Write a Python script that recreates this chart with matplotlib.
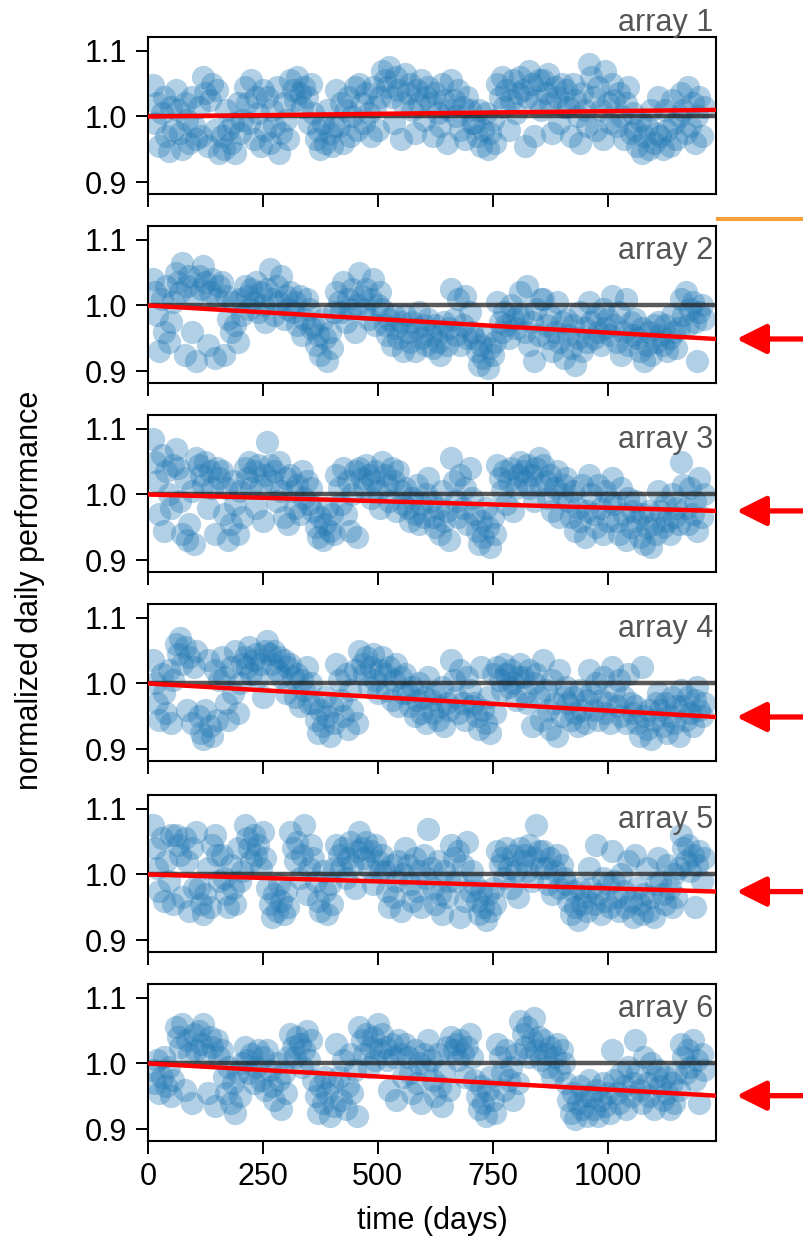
import matplotlib.pyplot as plt
from matplotlib.lines import Line2D
import numpy as np

# sampling days (every 5 days) and per-array daily performance,
# stored as deviation from 1.0 in per mille
days = np.arange(10, 1211, 5)

array1 = [
    48, -10, 20, -45, 5, 30, -30, -52, 15, -20,
    40, 10, -25, -50, 20, -5, -40, 30, -15, -35,
    15, -30, 60, 35, -45, 25, 50, -20, 40, -55,
    -30, -50, 10, -20, -40, -10, -55, 20, -25, -5,
    45, 20, -10, 55, -35, 30, 5, -45, 40, -20,
    30, -40, 10, -15, 45, -55, -25, 20, -5, -35,
    55, 40, 25, 60, 35, 15, 45, 30, -10, 50,
    5, -35, -20, -50, -10, -40, 10, -25, -45, -15,
    40, -15, 20, -40, 10, 30, -30, 0, 45, -20,
    50, 20, -10, 35, 5, -30, 45, 15, -20, 30,
    70, 55, 45, 75, 30, -10, 60, 40, -35, 20,
    65, 35, 50, 10, -25, 40, 20, 55, -5, 30,
    45, 20, -30, 35, 5, -15, 50, 25, -40, 10,
    55, 25, 0, 40, -20, 15, -35, 30, 10, -10,
    -10, -30, 10, -45, -20, 5, -50, -25, -5, -40,
    50, 30, 60, 15, 40, -20, 25, 55, 5, 35,
    60, 40, -45, 30, 70, 50, -30, 25, 55, 10,
    55, 35, 65, 20, -25, 45, 30, -10, 50, 15,
    40, 15, -30, 50, 25, 0, -40, 35, 10, -15,
    80, 60, 30, -20, 45, 10, -35, 70, 20, -10,
    50, 25, -15, 35, 0, -35, 20, 45, -25, 5,
    -20, -45, -5, -55, -30, -15, -50, 10, -40, -25,
    30, -30, -50, 10, -20, -45, 25, -10, -35, 0,
    35, 10, -25, 45, -15, 20, -40, 0, 30, -30, 15,
]

array2 = [
    40, 20, -15, -70, 10, -40, 30, -55, -25, 5,
    50, 35, 20, 65, -75, 30, 45, -40, 15, -85,
    45, 25, 60, 35, -60, 20, 40, -80, 10, 30,
    35, -75, 15, -20, -40, 5, -30, -55, 10, -15,
    30, 15, -5, 25, 5, 35, -10, 20, 0, -25,
    25, 55, 10, -15, 30, 5, 45, -20, 15, -5,
    20, -10, 5, -30, 15, -45, -20, 10, -5, -35,
    -30, -60, -45, -75, -20, -50, -85, -40, -65, -10,
    20, 5, -10, 35, -25, 10, -5, 25, -40, 0,
    50, 15, -5, 25, -20, 10, 40, -30, 0, 20,
    -5, -30, -45, -20, -60, -15, -35, -50, -25, -70,
    -15, -40, -55, -25, -70, -35, -10, -50, -30, -60,
    -20, -45, -65, -30, -55, -75, -40, -25, -60, -35,
    25, -20, -45, 10, -60, -30, 15, -50, -10, -40,
    -50, -70, -90, -60, -80, -45, -95, -65, -75, -55,
    5, -25, -40, -10, -30, -50, 0, -20, -35, -15,
    20, -15, -40, 30, -60, -25, -85, -5, -45, 10,
    10, -30, -50, -15, -70, -40, 5, -55, -25, -80,
    -20, -45, -65, -30, -90, -50, -10, -70, -35, -55,
    5, -25, -50, -15, -40, -60, -5, -35, -20, -45,
    15, -30, -55, -10, -75, -40, 10, -60, -25, -45,
    -20, -50, -70, -35, -85, -60, -40, -75, -30, -55,
    -25, -45, -60, -30, -70, -50, -15, -40, -65, -35,
    10, -15, 20, -30, -5, 5, -25, -85, -10, 0, -20,
]

array3 = [
    85, 50, 20, -30, 60, -55, 35, 0, -20, 45,
    70, 40, -10, -60, 25, -70, -45, 5, -75, 55,
    45, 30, 15, 50, -20, 35, 10, -60, 40, 25,
    35, -30, 10, -70, -45, 20, -15, -60, 5, -35,
    40, 25, 50, 10, 35, -20, 45, 15, -40, 30,
    80, 45, 20, 35, -10, 50, 5, -35, 25, -45,
    30, 5, -20, 15, -30, 35, -5, 20, -15, 10,
    -25, -50, -65, -35, -70, -45, -20, -55, -30, -60,
    30, 10, -15, 40, -30, 20, -55, 0, 35, -65,
    40, 25, 10, 45, 30, -5, 20, 35, 5, -20,
    50, 30, 15, -10, 40, 20, -25, 35, 5, -15,
    10, -20, -40, -5, -30, 15, -45, -15, -35, 0,
    25, -10, -35, -50, -20, -60, 5, -40, -25, -70,
    55, 20, -10, -35, 30, -20, 10, -45, 40, -5,
    -30, -55, -75, -40, -65, -20, -50, -80, -35, -60,
    45, 25, 5, 35, -15, 20, 40, -25, 10, 30,
    50, 35, 20, 45, 10, 30, -10, 40, 55, 15,
    45, 20, -5, 30, -25, 10, 35, -35, 0, 15,
    25, -10, -35, 5, -55, -20, -40, 15, -65, -25,
    30, 0, -30, -50, 15, -20, -60, 5, -40, -10,
    25, -15, -40, -60, 10, -30, -70, -5, -50, -25,
    -10, -40, -65, -30, -75, -50, -25, -80, -45, -60,
    5, -25, -50, -15, -40, -60, 0, -35, -20, -45,
    50, 15, -20, -45, 10, -30, -10, -55, 25, -35, 0,
]

array4 = [
    35, 0, -30, -55, 15, -15, -45, 20, -60, 5,
    60, 45, 70, 30, 55, -40, 40, -60, 25, 50,
    -50, -75, -85, -40, 35, -65, -80, 20, -55, 5,
    40, 10, -30, -55, 25, -15, 50, -45, 0, 30,
    40, 25, 55, 15, 35, 45, 10, 30, -20, 50,
    65, 45, 30, 50, 20, 40, 10, 35, -15, 25,
    30, 10, -20, 15, -35, 5, -10, 25, -30, 0,
    -30, -55, -75, -40, -65, -20, -50, -80, -35, -60,
    30, 5, -25, -50, 15, -70, -10, -40, 20, -60,
    50, 30, 15, 40, -5, 25, 45, 5, -15, 20,
    40, 15, -10, 25, -25, 5, 30, -35, 10, -15,
    15, -15, -35, -5, -50, -25, 0, -45, -20, -60,
    10, -25, -45, -15, -55, -35, -5, -65, -30, -40,
    35, 5, -20, -45, 20, -30, -55, 10, -10, -35,
    -30, -50, -70, 25, -40, -60, -20, -75, 15, -45,
    25, 5, -10, 30, 15, -5, 20, 0, -25, 10,
    30, 10, -15, -30, 20, -65, 0, 15, -20, -55,
    35, -10, -40, -70, 5, -30, -80, 20, -50, -20,
    -5, -30, -55, -20, -45, -65, -10, -40, -60, -25,
    20, -15, -40, 0, -55, -25, 10, -45, -30, -60,
    25, -10, -35, 5, -50, -20, -60, 15, -30, -45,
    -35, -60, -80, 25, -50, -70, -40, -85, -55, -30,
    -15, -40, -65, -30, -75, -50, -20, -60, -35, -80,
    -10, -35, -55, -20, -45, -65, -25, -5, -40, -50, -30,
]

array5 = [
    75, 40, 10, -25, 55, -40, 20, -10, 60, -45,
    60, 45, 30, -35, 55, 20, -55, 40, -20, 65,
    -20, -45, -60, -30, 10, -50, 45, 60, 30, -10,
    30, -5, -30, -50, 15, -20, -45, 40, -10, 5,
    75, 55, 40, 20, 60, 30, 45, 10, 65, 25,
    -20, -45, -65, -30, -55, -15, -40, -60, -25, -50,
    65, 40, 20, 50, -5, 30, 75, -30, 10, 45,
    25, -10, -40, -55, 5, -25, -60, -15, -45, 10,
    45, 30, 10, 40, -5, 25, 50, 15, -20, 35,
    65, 40, 25, 50, 10, 35, -15, 45, 20, 5,
    30, 5, -25, -50, 15, -35, -10, 20, -55, 0,
    40, 15, -15, -40, 25, -25, 5, -50, 30, -5,
    70, 10, -20, -45, 20, -30, -60, 5, -35, -10,
    45, 25, -10, 35, -65, 15, -40, 50, -25, 5,
    -15, -40, -60, -25, -50, -70, -30, -55, -20, -45,
    35, 15, 25, -5, 40, 10, -20, 30, 5, -35,
    40, 20, 30, 5, 45, -10, 25, 75, 35, 10,
    35, 10, -15, 25, -30, 5, 30, -20, 15, -5,
    -15, -40, -60, -25, -50, -70, -20, -45, -35, -55,
    10, -20, -45, 45, -30, -60, -5, -40, -15, -50,
    35, -10, -35, -55, 0, -25, -50, 20, -40, -65,
    30, -20, -45, -60, -30, 10, -55, -35, -65, -15,
    25, -10, -30, -45, 15, -20, -50, 0, -35, 10,
    60, 40, 20, 45, 5, 30, -50, 15, 35, -10, 25,
]

array6 = [
    -10, -30, 5, -45, -20, 10, -35, -5, -50, -25,
    55, 40, 25, 60, -40, 35, 15, -60, 45, 20,
    50, 30, 60, 15, -45, 40, 25, -65, 35, 10,
    20, -20, -45, -5, -60, -30, -75, -15, -50, 0,
    25, 5, -15, 15, -30, -5, 20, -25, 10, -40,
    20, -10, -35, -55, 0, -25, -70, -15, -45, 10,
    45, 25, 10, 40, 30, -5, 20, 50, 5, 35,
    -25, -50, -75, -35, -60, -20, -45, -80, -30, -65,
    30, -20, -55, 5, -70, -35, 15, -45, -10, -80,
    55, 35, 15, 45, -5, 25, 40, 5, 60, 20,
    45, 25, 5, -40, 30, 10, -55, 35, 15, -20,
    30, 10, -15, -45, 20, -30, 0, -60, 15, -10,
    35, 5, -25, -50, 15, -35, -65, -10, 25, -40,
    40, 20, 30, 5, 35, 15, -20, 25, 45, 10,
    -25, -50, -70, -35, -60, -80, -40, -20, -55, -75,
    30, 10, -15, -40, 20, -25, -5, -55, 15, -30,
    65, 45, 25, 55, 10, 35, 70, 20, 40, 5,
    35, 15, -5, 25, -20, 10, 30, -10, 20, 0,
    -30, -55, -75, -45, -85, -60, -35, -70, -50, -80,
    -25, -50, -70, -40, -80, -55, -30, -65, -45, -75,
    20, -25, -45, -60, -15, -35, -70, -5, -50, -30,
    35, -15, -40, -60, 10, -30, -50, 0, -70, -20,
    -10, -35, -55, -20, -45, -70, -30, -60, -15, -40,
    30, 10, -15, 20, -5, 35, -25, 5, -60, 15, -10,
]

labels = ["array 1", "array 2", "array 3", "array 4", "array 5", "array 6"]
series = [array1, array2, array3, array4, array5, array6]
# value of the linear trend at the right end of the time axis
trend_end = [1.010, 0.949, 0.975, 0.949, 0.974, 0.951]
flagged = [False, True, True, True, True, True]

xmax = 1236
xticks = [0, 250, 500, 750, 1000]
yticks = [0.9, 1.0, 1.1]

plt.rcParams["font.family"] = ["Liberation Sans", "DejaVu Sans"]

W, H = 804, 1242
fig = plt.figure(figsize=(W / 100, H / 100), dpi=100)

tops = [37, 226, 415, 604, 795, 984]
ax_h = 157
left, right = 148, 716

for i, (lab, vals) in enumerate(zip(labels, series)):
    ax = fig.add_axes([left / W, 1 - (tops[i] + ax_h) / H, (right - left) / W, ax_h / H])
    perf = 1 + np.array(vals) / 1000.0
    ax.scatter(days, perf, s=280, color="#1f77b4", alpha=0.34, linewidths=0, zorder=1)
    ax.axhline(1.0, color="#222222", alpha=0.75, lw=3.2, zorder=2)
    ax.plot([0, xmax], [1.0, trend_end[i]], color="red", lw=3.2, zorder=3)

    ax.set_xlim(0, xmax)
    ax.set_ylim(0.882, 1.121)
    ax.set_xticks(xticks)
    ax.set_yticks(yticks)
    ax.set_yticklabels(["%.1f" % t for t in yticks])
    ax.tick_params(direction="out", length=9, width=1.4, labelsize=22, pad=6)
    for sp in ax.spines.values():
        sp.set_linewidth(1.5)
    if i < 5:
        ax.set_xticklabels([])
    else:
        ax.set_xlabel("time (days)", fontsize=22, labelpad=10)

    ty = 1.04 if i == 0 else 0.79
    ax.text(0.995, ty, lab, transform=ax.transAxes, ha="right", va="baseline",
            fontsize=22, color="#555555")

    if flagged[i]:
        ax.annotate("", xy=(1.036, trend_end[i]), xycoords=("axes fraction", "data"),
                    xytext=(1.18, trend_end[i]), textcoords=("axes fraction", "data"),
                    arrowprops=dict(arrowstyle="-|>,head_length=0.9,head_width=0.45",
                                    mutation_scale=20, color="red", lw=3.8,
                                    shrinkA=0, shrinkB=0),
                    annotation_clip=False)

# orange marker line between the first two panels
fig.add_artist(Line2D([718 / W, 1.0], [1 - 219 / H, 1 - 219 / H],
                      color="#f5a03a", lw=3, transform=fig.transFigure))

fig.text(30 / W, 1 - 590 / H, "normalized daily performance", rotation=90,
         ha="center", va="center", fontsize=22)

fig.savefig("out.png", dpi=100)
